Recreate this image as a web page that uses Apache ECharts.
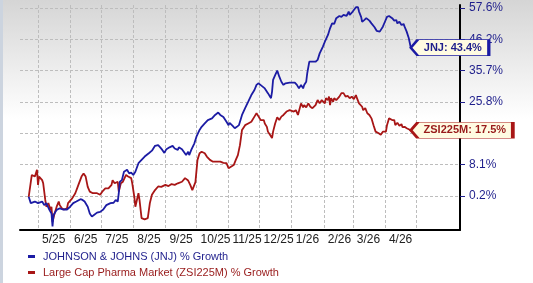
<!DOCTYPE html>
<html><head><meta charset="utf-8">
<script src="https://cdn.jsdelivr.net/npm/echarts@6/dist/echarts.min.js"></script>
<style>html,body{margin:0;padding:0;background:#fff}#c{width:533px;height:283px}</style>
</head><body><div id="c"></div>
<script>
// x values: days since 2025-05-01 ; y values: % growth
const monthLabels = ['5/25','6/25','7/25','8/25','9/25','10/25','11/25','12/25','1/26','2/26','3/26','4/26'];
const yTickValues = [0.2, 8.1, 16.6, 25.8, 35.7, 46.2, 57.6];
const jnjName = 'JOHNSON & JOHNS (JNJ) % Growth';
const zsiName = 'Large Cap Pharma Market (ZSI225M) % Growth';
const jnjShort = 'JNJ';
const zsiShort = 'ZSI225M';

const jnj = [[-9,0.0],[-7,-1.6],[-3,-1.2],[0,-1.6],[4,-1.2],[6,-2.1],[8,-1.6],[11,-3.3],[13,-4.2],[14,-7.5],[15,-4.6],[18,-3.3],[21,-2.9],[24,-3.2],[28,-3.2],[31,-2.5],[34,-1.6],[37,-1.2],[41,-0.6],[43,-0.8],[45,-1.2],[48,-2.5],[50,-4.2],[52,-5.0],[54,-4.6],[57,-4.0],[60,-3.8],[63,-3.2],[66,-2.1],[70,-1.6],[73,-1.5],[75,-0.8],[77,-1.2],[78,0.9],[79,3.8],[81,4.2],[83,6.3],[86,6.8],[88,5.9],[90,6.1],[92,5.5],[94,6.3],[97,8.5],[100,9.4],[103,10.3],[107,11.2],[110,11.9],[113,13.2],[116,13.4],[118,12.8],[120,12.1],[122,11.3],[124,12.3],[127,12.8],[130,13.2],[132,12.5],[135,12.1],[136,12.8],[139,12.3],[140,11.9],[143,10.7],[145,11.6],[146,10.7],[148,12.1],[151,13.9],[153,15.7],[156,17.6],[158,18.5],[161,19.5],[164,20.5],[168,21.0],[171,22.0],[174,22.7],[176,22.0],[179,21.4],[182,20.0],[184,19.0],[185,19.7],[188,18.8],[190,18.1],[192,18.5],[194,19.0],[197,22.0],[200,24.0],[203,25.9],[206,28.0],[209,29.6],[211,31.2],[213,31.7],[216,30.9],[219,30.1],[222,28.6],[225,27.0],[226,29.1],[227,32.8],[229,34.3],[231,35.7],[233,33.8],[235,32.2],[237,31.2],[239,31.7],[243,31.9],[248,31.9],[250,31.2],[252,30.1],[254,31.2],[256,30.1],[257,31.2],[259,32.2],[260,34.9],[262,38.7],[264,38.7],[268,38.7],[270,39.3],[272,41.5],[275,43.7],[277,45.4],[280,47.8],[282,50.2],[284,52.0],[286,51.8],[288,53.9],[291,54.7],[293,54.4],[295,55.1],[296,55.7],[298,54.7],[300,56.3],[301,55.1],[303,55.9],[305,56.9],[307,57.9],[309,57.9],[310,56.3],[312,54.4],[313,52.6],[315,53.2],[317,53.9],[320,53.0],[322,52.0],[325,50.6],[327,49.3],[330,49.0],[333,50.8],[335,52.6],[337,54.4],[339,54.7],[342,53.9],[344,53.0],[346,53.2],[347,52.0],[349,52.6],[351,51.4],[353,51.8],[354,50.8],[356,49.0],[358,46.7],[360,43.4]];

const zsi = [[-9,0.0],[-6,5.5],[-3,5.1],[-1,6.8],[0,3.0],[1,5.1],[4,4.2],[5,3.4],[7,-0.8],[8,-2.5],[10,-1.6],[12,-3.3],[13,-2.5],[14,-6.3],[16,-4.2],[18,-2.5],[20,-1.2],[21,-2.1],[23,-2.9],[25,-3.2],[28,-2.9],[29,-1.6],[33,-0.4],[36,0.9],[39,3.0],[42,5.1],[44,5.9],[46,5.1],[48,2.5],[50,1.3],[53,0.9],[57,0.9],[60,0.5],[62,1.3],[65,2.1],[68,2.1],[71,3.0],[72,4.2],[74,3.4],[77,3.8],[78,1.3],[80,3.4],[82,3.8],[85,5.5],[87,5.1],[90,4.7],[91,3.4],[93,0.0],[94,-2.5],[95,-2.9],[97,0.9],[98,-0.8],[100,-5.4],[103,-5.7],[106,-5.4],[108,-1.6],[110,0.5],[113,1.7],[116,2.6],[119,2.5],[123,3.0],[126,2.7],[129,3.2],[132,3.0],[135,3.4],[139,3.8],[142,4.7],[145,4.1],[147,3.0],[149,1.7],[152,3.7],[154,9.4],[156,11.2],[158,11.6],[161,11.2],[163,10.3],[166,9.4],[169,8.9],[173,8.9],[176,8.9],[179,8.6],[182,8.5],[184,7.2],[185,7.6],[189,8.0],[191,9.4],[193,10.7],[195,13.4],[197,17.6],[200,19.0],[203,19.5],[206,20.0],[209,21.5],[211,22.5],[213,21.5],[215,20.5],[218,20.5],[219,19.5],[221,18.5],[222,17.1],[224,16.2],[226,15.3],[227,17.1],[229,19.5],[231,21.3],[233,20.5],[235,21.5],[237,22.0],[240,23.0],[243,23.4],[247,23.0],[249,23.4],[251,22.0],[252,22.5],[254,25.4],[256,24.2],[257,24.9],[259,24.2],[261,25.4],[263,24.4],[265,24.0],[268,24.9],[270,26.4],[272,25.4],[274,26.4],[277,25.4],[278,27.0],[280,26.4],[281,27.5],[282,24.9],[283,27.0],[285,25.9],[286,27.0],[288,26.4],[291,27.5],[293,28.6],[295,28.6],[297,27.5],[299,27.7],[301,27.0],[303,27.5],[305,26.7],[307,28.0],[308,27.0],[310,25.4],[313,24.4],[314,23.4],[316,24.0],[318,22.5],[320,22.0],[322,21.0],[323,20.5],[324,19.0],[326,17.1],[329,16.6],[331,16.2],[333,17.1],[334,16.6],[336,17.1],[337,19.0],[339,21.0],[342,20.5],[344,20.5],[345,19.0],[347,19.7],[349,18.8],[351,19.3],[352,18.4],[354,18.5],[356,18.1],[358,17.8],[360,17.5]];

const DAY = 86400000;
const T0 = Date.UTC(2025, 4, 1);
function toT(p) {
  const v = yTickValues; let i = 0;
  if (p <= v[0]) i = 0;
  else if (p >= v[v.length - 1]) i = v.length - 2;
  else { while (p > v[i + 1]) i++; }
  return i + (p - v[i]) / (v[i + 1] - v[i]);
}
// month-start positions in days since 2025-05-01
const monthTicks = [];
for (let i = 0; i <= monthLabels.length; i++) monthTicks.push(Math.round((Date.UTC(2025, 4 + i, 1) - T0) / DAY));
const labelTicks = monthTicks.slice(0, monthLabels.length);
const yTicks = yTickValues.map((_, i) => i);

const FONT = '"Liberation Sans", Arial, sans-serif';
const BLUE = '#1c1ca4', RED = '#a81616';
const BLUE_T = '#1f1f8c', RED_T = '#981a1a';

const jnjData = jnj.map(([d, p]) => [d, toT(p)]);
const zsiData = zsi.map(([d, p]) => [d, toT(p)]);

function tag(data, raw, short, w, color, textColor) {
  const last = data[data.length - 1];
  return {
    silent: true,
    animation: false,
    data: [{
      coord: last,
      symbol: 'path://M0,8 L7,0 L' + w + ',0 L' + w + ',16 L7,16 Z',
      symbolSize: [w, 16],
      symbolOffset: [w / 2, 0],
      itemStyle: { color: '#fffbe2', borderColor: color, borderWidth: 1.5 },
      label: {
        show: true, position: 'inside', offset: [3, 0],
        formatter: short + ': ' + raw[raw.length - 1][1].toFixed(1) + '%',
        color: textColor, fontWeight: 'bold', fontSize: 11, fontFamily: FONT
      }
    }]
  };
}

const chart = echarts.init(document.getElementById('c'), null, { renderer: 'canvas' });
chart.setOption({
  animation: false,
  backgroundColor: { type: 'linear', x: 0, y: 0, x2: 0, y2: 1,
    colorStops: [{ offset: 0, color: '#d5d5d5' }, { offset: 0.42, color: '#ffffff' }, { offset: 1, color: '#ffffff' }] },
  graphic: [{ type: 'rect', left: 0, top: 0, shape: { width: 3, height: 283 }, style: { fill: '#ccd4df' }, silent: true }],
  grid: { left: 20, right: 73, top: 5, bottom: 53 },
  legend: {
    orient: 'vertical', left: 28, top: 250, padding: 0, icon: 'rect', itemWidth: 7, itemHeight: 3, itemGap: 3,
    textStyle: { fontFamily: FONT, fontSize: 11, padding: [0, 0, 0, 3], lineHeight: 13 },
    data: [{ name: jnjName, textStyle: { color: BLUE_T } }, { name: zsiName, textStyle: { color: RED_T } }]
  },
  xAxis: {
    type: 'value', min: -17.4, max: 407.5,
    axisLine: { onZero: false, lineStyle: { color: '#000', width: 2 } },
    axisTick: { show: false, customValues: monthTicks },
    splitLine: { show: true, lineStyle: { color: '#bdbdbd', type: [3, 2], width: 1 } },
    axisLabel: {
      customValues: labelTicks, align: 'left', padding: [0, 0, 0, 4], margin: 4,
      color: '#222', fontSize: 12, fontFamily: FONT,
      formatter: v => monthLabels[labelTicks.indexOf(v)] || ''
    }
  },
  yAxis: {
    type: 'value', position: 'right', min: -34 / 31.33, max: 6 + 3 / 31.33,
    axisLine: { show: true, onZero: false, lineStyle: { color: '#000', width: 2 } },
    axisTick: { show: true, length: 5, customValues: yTicks, lineStyle: { color: '#1f1f8c', width: 1 } },
    splitLine: { show: true, lineStyle: { color: '#bdbdbd', type: [3, 2], width: 1 } },
    axisLabel: {
      customValues: yTicks, margin: 9, color: '#1f1f8c', fontSize: 12, fontFamily: FONT,
      formatter: v => yTickValues[Math.round(v)].toFixed(1) + '%'
    }
  },
  series: [
    { name: jnjName, type: 'line', data: jnjData, showSymbol: false, symbol: 'none', clip: false,
      color: BLUE, lineStyle: { color: BLUE, width: 1.8 }, z: 3,
      markPoint: tag(jnjData, jnj, jnjShort, 78, BLUE, BLUE_T) },
    { name: zsiName, type: 'line', data: zsiData, showSymbol: false, symbol: 'none', clip: false,
      color: RED, lineStyle: { color: RED, width: 1.8 }, z: 2,
      markPoint: tag(zsiData, zsi, zsiShort, 102, RED, RED_T) }
  ]
});
</script></body></html>
